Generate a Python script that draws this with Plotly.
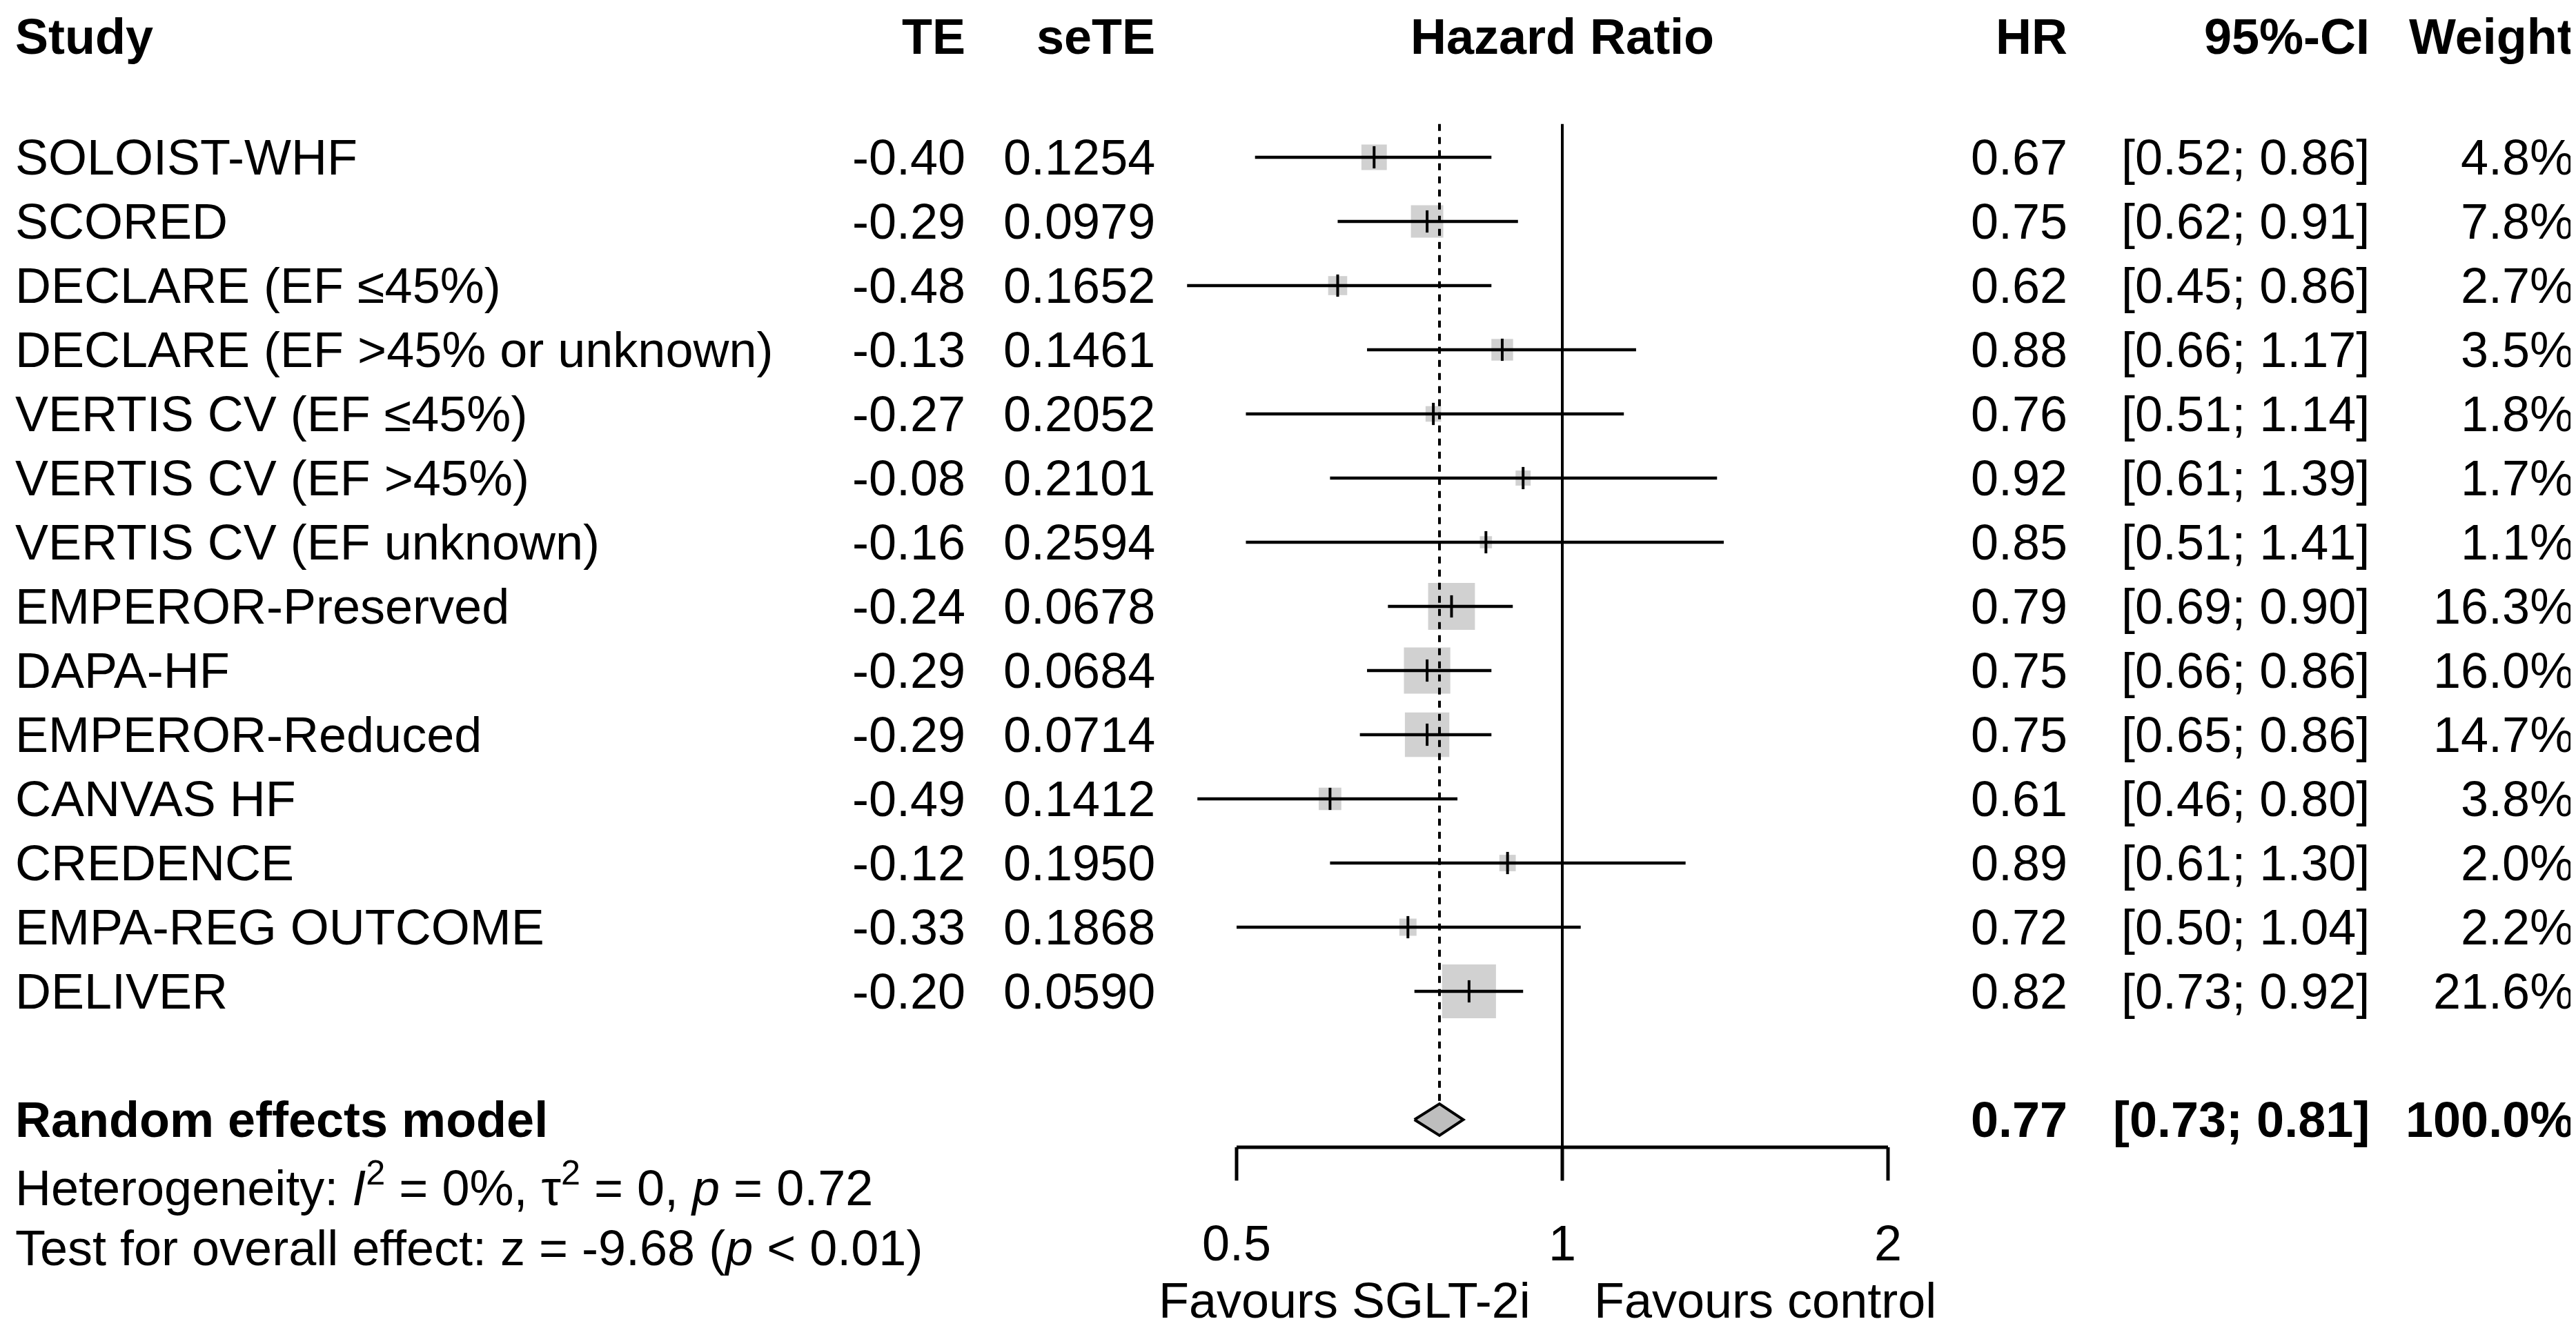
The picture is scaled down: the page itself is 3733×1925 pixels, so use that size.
import numpy as np
import plotly.graph_objects as go

# forest plot data
studies = ["SOLOIST-WHF", "SCORED", "DECLARE (EF ≤45%)", "DECLARE (EF >45% or unknown)",
           "VERTIS CV (EF ≤45%)", "VERTIS CV (EF >45%)", "VERTIS CV (EF unknown)",
           "EMPEROR-Preserved", "DAPA-HF", "EMPEROR-Reduced", "CANVAS HF", "CREDENCE",
           "EMPA-REG OUTCOME", "DELIVER"]
te = [-0.40, -0.29, -0.48, -0.13, -0.27, -0.08, -0.16, -0.24, -0.29, -0.29, -0.49, -0.12, -0.33, -0.20]
se_te = [0.1254, 0.0979, 0.1652, 0.1461, 0.2052, 0.2101, 0.2594, 0.0678, 0.0684, 0.0714,
         0.1412, 0.1950, 0.1868, 0.0590]
hr = [0.67, 0.75, 0.62, 0.88, 0.76, 0.92, 0.85, 0.79, 0.75, 0.75, 0.61, 0.89, 0.72, 0.82]
ci_lo = [0.52, 0.62, 0.45, 0.66, 0.51, 0.61, 0.51, 0.69, 0.66, 0.65, 0.46, 0.61, 0.50, 0.73]
ci_hi = [0.86, 0.91, 0.86, 1.17, 1.14, 1.39, 1.41, 0.90, 0.86, 0.86, 0.80, 1.30, 1.04, 0.92]
weight = [4.8, 7.8, 2.7, 3.5, 1.8, 1.7, 1.1, 16.3, 16.0, 14.7, 3.8, 2.0, 2.2, 21.6]

pooled_hr = 0.77
pooled_lo = 0.73
pooled_hi = 0.81
pooled_weight = 100.0

tick_vals = [0.5, 1, 2]
tick_text = ["0.5", "1", "2"]

W, H = 3733, 1925
FONT = "Liberation Sans, Arial, sans-serif"
FS = 72

# rows: y in "row units", row 0 = first study, 93px per row
rows = list(range(len(studies)))
r_head = -1.88
r_pool = 15
r_het = 16
r_test = 17
r_fav = 17.82
r_axis = 15.43
r_tick = 15.95
r_top = -0.52


def px(x):
    return x / W


fig = go.Figure()

# squares (side ~ sqrt(weight))
fig.add_trace(go.Scatter(
    x=hr, y=rows, mode="markers",
    marker=dict(symbol="square", size=[16.8 * np.sqrt(w) for w in weight],
                color="#bebebe", line=dict(width=0)),
    hoverinfo="skip"))

# reference line at 1 and pooled estimate (dashed)
fig.add_trace(go.Scatter(x=[1, 1], y=[r_top, r_tick], mode="lines",
                         line=dict(color="black", width=4), hoverinfo="skip"))
fig.add_trace(go.Scatter(x=[pooled_hr, pooled_hr], y=[r_top, r_pool - 0.25], mode="lines",
                         line=dict(color="black", width=4, dash="10px,9px"), hoverinfo="skip"))

# confidence intervals
cx, cy = [], []
for lo, hi, r in zip(ci_lo, ci_hi, rows):
    cx += [lo, hi, None]
    cy += [r, r, None]
fig.add_trace(go.Scatter(x=cx, y=cy, mode="lines",
                         line=dict(color="black", width=4.5), hoverinfo="skip"))

# point estimate ticks
fig.add_trace(go.Scatter(
    x=hr, y=rows, mode="markers",
    marker=dict(symbol="line-ns", size=23, line=dict(width=4, color="black")),
    hoverinfo="skip"))

# pooled diamond
fig.add_trace(go.Scatter(
    x=[pooled_lo, pooled_hr, pooled_hi, pooled_hr, pooled_lo],
    y=[r_pool, r_pool - 0.247, r_pool, r_pool + 0.247, r_pool],
    mode="lines", fill="toself", fillcolor="#bebebe",
    line=dict(color="black", width=4), hoverinfo="skip"))

# x axis drawn by hand
ax_x, ax_y = [tick_vals[0], tick_vals[-1], None], [r_axis, r_axis, None]
for t in tick_vals:
    ax_x += [t, t, None]
    ax_y += [r_axis, r_tick, None]
fig.add_trace(go.Scatter(x=ax_x, y=ax_y, mode="lines",
                         line=dict(color="black", width=5), hoverinfo="skip"))
fig.add_trace(go.Scatter(x=tick_vals, y=[r_test] * len(tick_vals), mode="text",
                         text=tick_text, textposition="middle center",
                         textfont=dict(family=FONT, size=FS, color="black"),
                         hoverinfo="skip"))


def txt(x, y, s, anchor="right"):
    fig.add_annotation(x=px(x), y=y, xref="paper", yref="y", text=s, showarrow=False,
                       xanchor=anchor, yanchor="middle",
                       font=dict(family=FONT, size=FS, color="black"))


# header
txt(12, r_head, "<b>Study</b>", "left")
txt(1393, r_head, "<b>TE</b>")
txt(1668, r_head, "<b>seTE</b>")
txt(2256, r_head, "<b>Hazard Ratio</b>", "center")
txt(2990, r_head, "<b>HR</b>")
txt(3428, r_head, "<b>95%-CI</b>")
txt(3724, r_head, "<b>Weight</b>")

# study rows
for i in rows:
    txt(12, i, studies[i], "left")
    txt(1393, i, f"{te[i]:.2f}")
    txt(1668, i, f"{se_te[i]:.4f}")
    txt(2990, i, f"{hr[i]:.2f}")
    txt(3428, i, f"[{ci_lo[i]:.2f}; {ci_hi[i]:.2f}]")
    txt(3724, i, f"{weight[i]:.1f}%")

# pooled row
txt(12, r_pool, "<b>Random effects model</b>", "left")
txt(2990, r_pool, f"<b>{pooled_hr:.2f}</b>")
txt(3428, r_pool, f"<b>[{pooled_lo:.2f}; {pooled_hi:.2f}]</b>")
txt(3724, r_pool, f"<b>{pooled_weight:.1f}%</b>")

txt(12, r_het, "Heterogeneity: <i>I</i><sup>2</sup> = 0%, τ<sup>2</sup> = 0, <i>p</i> = 0.72", "left")
txt(12, r_test, "Test for overall effect: z = -9.68 (<i>p</i> &lt; 0.01)", "left")

txt(2212, r_fav, "Favours SGLT-2i", "right")
txt(2300, r_fav, "Favours control", "left")

# log x-axis spanning the whole page: 1 at x=2256px, 472px per doubling
x_lo = np.log10(2 ** ((0 - 2256) / 472))
x_hi = np.log10(2 ** ((W - 2256) / 472))
y_top = -220 / 93
y_bot = (H - 220) / 93

fig.update_xaxes(type="log", range=[x_lo, x_hi], visible=False, fixedrange=True)
fig.update_yaxes(range=[y_bot, y_top], visible=False, fixedrange=True)
fig.update_layout(
    width=W, height=H,
    margin=dict(l=0, r=0, t=0, b=0),
    paper_bgcolor="white", plot_bgcolor="white",
    showlegend=False,
)

fig.write_html("out.html", config={"displayModeBar": False})
